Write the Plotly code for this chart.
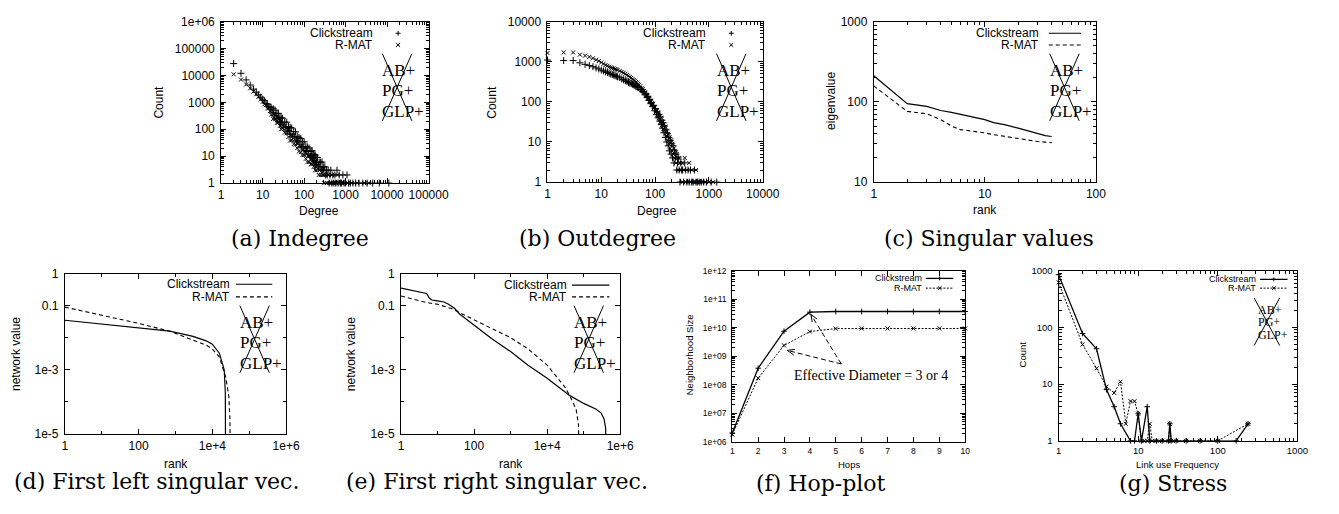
import math
import plotly.graph_objects as go

W, H = 1339, 514
SANS = "Liberation Sans, Arial, sans-serif"
SERIF = "Liberation Serif, Times New Roman, serif"
CAP = "DejaVu Serif, serif"

# ---------------- (a) Indegree ----------------
indeg_click_deg = [2, 3, 4, 5, 6, 7, 8, 9, 10,
                   11, 12, 13, 14, 15, 16, 17, 18, 19, 20,
                   21, 22, 23, 24, 25, 26, 27, 28, 29, 30,
                   32, 34, 36, 38, 40,
                   42, 44, 46, 48, 50,
                   53, 56, 59, 62, 65, 68, 71,
                   75, 79, 83, 87, 91, 95, 100,
                   105, 110, 115, 120, 126, 132, 138, 145,
                   150, 155, 160, 165, 170, 175, 180, 185, 190, 195, 200,
                   210, 220, 230, 240, 250, 260, 270, 280, 290, 300,
                   315, 330, 345, 360, 380, 400, 420, 440, 465, 490,
                   520, 550, 580, 620, 660, 700, 750, 800, 860, 920, 990,
                   1080, 1180, 1300, 1500, 1750, 2100, 2600, 3300, 4500, 6500, 11000]
indeg_click_cnt = [27500, 12000, 6800, 4400, 3100, 2400, 1900, 1550, 1300,
                   1150, 900, 855, 680, 670, 655, 408, 575, 313, 513,
                   245, 388, 254, 389, 187, 279, 182, 266, 151, 256,
                   120, 186, 121, 182, 86,
                   126, 82, 117, 66, 111,
                   52, 82, 53, 80, 37, 55, 36,
                   50, 28, 45, 22, 34, 22, 34,
                   16, 23, 15, 22, 12, 20, 10, 15,
                   10, 16, 8, 12, 7, 11, 6, 11, 5, 9, 6,
                   9, 4, 6, 4, 6, 3, 6, 3, 4, 3,
                   4, 2, 3, 2, 3, 1, 2, 3, 1, 2,
                   1, 2, 1, 3, 1, 2, 1, 1, 2, 1, 1,
                   2, 1, 1, 1, 1, 1, 1, 1, 1, 1, 1]
indeg_rmat_deg = [2, 3, 4, 5, 6, 7, 8, 9, 10,
                  11, 12, 13, 14, 15, 16, 17, 18, 19, 20,
                  21, 22, 23, 24, 25, 26, 27, 28, 29, 30,
                  32, 34, 36, 38, 40,
                  42, 44, 46, 48, 50,
                  53, 56, 59, 62, 65, 68, 71,
                  75, 79, 83, 87, 91, 95, 100,
                  105, 110, 115, 120, 126, 132, 138, 145,
                  150, 157, 163, 170, 177, 185, 193, 200,
                  212, 225, 238, 252, 268, 285, 305, 325, 350, 375,
                  405, 435, 470, 510, 545, 590, 640, 690, 760, 830,
                  950, 1120, 1400, 1900, 2800, 3600]
indeg_rmat_cnt = [11000, 7000, 4600, 3300, 2500, 2000, 1600, 1280, 1050,
                  840, 790, 605, 600, 480, 351, 506, 242, 372, 238,
                  356, 173, 265, 176, 243, 133, 200, 100, 161, 106,
                  154, 74, 110, 71, 97,
                  52, 77, 38, 60, 39,
                  57, 28, 41, 27, 37, 20, 30,
                  15, 23, 14, 22, 11, 17, 11,
                  15, 8, 12, 6, 10, 6, 10, 5,
                  8, 5, 7, 4, 6, 3, 4, 3,
                  5, 2, 3, 2, 3, 2, 1, 2, 1, 2,
                  1, 1, 2, 1, 1, 1, 2, 1, 1, 1,
                  1, 1, 1, 1, 1, 1]

# ---------------- (b) Outdegree ----------------
outdeg_rmat_deg = [1, 2, 3, 4, 5, 6, 7, 8, 9, 10, 11, 12, 13, 14, 15, 16, 17, 18, 19, 20,
                   22, 24, 26, 28, 30, 32, 34, 36, 38, 40, 42, 44, 46, 48, 50,
                   53, 56, 59, 62, 65, 68, 71, 74, 77, 80, 83, 86, 90, 94, 98,
                   102, 106, 110, 114, 118, 122, 126, 130, 134, 138, 142, 146, 150, 155, 160,
                   165, 170, 175, 180, 186, 192, 198, 204, 210, 217, 224, 231, 238, 245, 253,
                   261, 270, 280, 290, 300,
                   312, 325, 340, 355, 370, 390, 410, 430, 455, 480, 510, 540, 575, 610, 650,
                   700, 760, 850, 1000, 1200]
outdeg_rmat_cnt = [1650, 1700, 1700, 1500, 1420, 1320, 1220, 1120, 1040, 960, 890, 830, 790, 750, 720,
                   700, 680, 655, 640, 620,
                   590, 560, 530, 500, 470, 445, 415, 395, 370, 350, 335, 310, 300, 275, 265,
                   245, 220, 210, 185, 172, 150, 148, 128, 125, 108, 106, 92, 90, 74, 72,
                   62, 58, 48, 55, 40, 45, 32, 40, 26, 31, 21, 28, 19, 24, 14,
                   19, 11, 16, 9, 13, 7, 11, 6, 9, 5, 7, 4, 6, 3, 5,
                   4, 2, 4, 3, 2,
                   3, 1, 2, 4, 1, 2, 1, 3, 1, 2, 1, 1, 2, 1, 1,
                   1, 1, 1, 1, 1]
outdeg_click_deg = [1, 2, 3, 4, 5, 6, 7, 8, 9, 10, 11, 12, 13, 14, 15, 16, 17, 18, 19, 20,
                    22, 24, 26, 28, 30, 32, 34, 36, 38, 40, 42, 44, 46, 48, 50,
                    53, 56, 59, 62, 65, 68, 71, 74, 77, 80, 83, 86, 90, 94, 98,
                    102, 106, 110, 114, 118, 122, 126, 130, 134, 138, 142, 146, 150, 155, 160,
                    165, 170, 175, 180, 186, 192, 198, 204, 210, 217, 224, 231, 238, 245, 253,
                    261, 270, 280, 290, 300,
                    312, 325, 340, 355, 370, 390, 410, 430, 455, 480, 510, 540, 575, 610, 660,
                    720, 800, 900, 1100, 1400]
outdeg_click_cnt = [1100, 1070, 1070, 940, 860, 800, 750, 700, 660, 620, 590, 560, 540, 515, 495,
                    480, 465, 450, 435, 420,
                    400, 370, 355, 335, 320, 305, 295, 285, 275, 265, 258, 240, 242, 225, 228,
                    205, 200, 180, 175, 150, 155, 128, 132, 108, 112, 90, 96, 76, 82, 60,
                    68, 48, 56, 40, 48, 33, 42, 27, 35, 22, 30, 17, 25, 13, 20,
                    10, 16, 8, 13, 6, 11, 5, 9, 4, 8, 3, 6, 4, 5, 2,
                    3, 4, 2, 1, 3,
                    2, 2, 1, 3, 2, 1, 2, 1, 2, 1, 1, 2, 1, 1, 1,
                    1, 1, 1, 1, 1]

# ---------------- (c) Singular values ----------------
sv_rank = [1, 2, 3, 4, 5, 6, 7, 8, 9, 10, 12, 15, 20, 25, 30, 35, 40]
sv_click = [211, 95, 88, 78, 74, 70, 67, 64, 62, 60, 55, 52, 47, 43, 40, 38, 37]
sv_rmat = [158, 76, 71, 60, 50, 45, 44, 43, 42, 41, 39, 37, 35, 33, 32, 31.5, 31]

# ---------------- (d) First left singular vector ----------------
lsv_click_rank = [1, 10, 100, 700, 3000, 6800, 10000, 15500, 21000, 22500, 23000]
lsv_click_val = [0.035, 0.027, 0.021, 0.016, 0.011, 0.008, 0.0063, 0.0033, 0.001, 0.0002, 1e-7]
lsv_rmat_rank = [1, 10, 100, 700, 3000, 6800, 10000, 15500, 23000, 28000, 30000, 31500]
lsv_rmat_val = [0.09, 0.05, 0.028, 0.016, 0.0085, 0.0059, 0.0045, 0.0025, 0.0006, 0.00015, 0.00003, 1e-7]

# ---------------- (e) First right singular vector ----------------
rsv_click_rank = [1, 2, 3, 4, 5, 6, 7, 10, 15, 20, 30, 40, 50, 100, 300, 1000, 3000, 10000,
                  41000, 100000, 214000, 300000, 360000, 400000, 420000]
rsv_click_val = [0.35, 0.3, 0.27, 0.25, 0.24, 0.17, 0.15, 0.14, 0.13, 0.11, 0.08, 0.055, 0.045,
                 0.025, 0.0095, 0.0037, 0.0014, 0.00055, 0.00016, 0.00009, 0.00006, 0.000045,
                 0.00003, 0.000015, 1e-7]
rsv_rmat_rank = [1, 2, 3, 5, 10, 25, 100, 300, 1000, 3000, 10000, 30000, 41000, 62000, 72000, 79000]
rsv_rmat_val = [0.2, 0.16, 0.14, 0.125, 0.11, 0.08, 0.036, 0.019, 0.01, 0.0045, 0.0014, 0.0003,
                0.00016, 0.00006, 0.00002, 1e-7]

# ---------------- (f) Hop-plot ----------------
hops = [1, 2, 3, 4, 5, 6, 7, 8, 9, 10]
hop_click = [2e6, 3.8e8, 7.5e9, 3.5e10, 3.7e10, 3.7e10, 3.7e10, 3.7e10, 3.7e10, 3.7e10]
hop_rmat = [1.8e6, 1.7e8, 2.4e9, 7.3e9, 9.3e9, 9.4e9, 9.4e9, 9.4e9, 9.4e9, 9.4e9]

# ---------------- (g) Stress ----------------
stress_click_freq = [1, 2, 3, 4, 5, 6, 8, 9, 10, 11, 13, 14, 17, 20, 24, 25, 26, 30, 40, 60, 100, 170, 240]
stress_click_cnt = [850, 78, 42, 8, 4, 2, 1, 1, 3, 1, 4, 1, 1, 1, 1, 2, 1, 1, 1, 1, 1, 1, 2]
stress_rmat_freq = [1, 2, 3, 4, 5, 6, 7, 8, 9, 10, 11, 12, 13, 14, 15, 17, 20, 24, 25, 26, 30, 40, 60, 100, 240]
stress_rmat_cnt = [620, 50, 19, 9, 7, 11, 2, 5, 5, 3, 1, 1, 1, 2, 1, 1, 1, 1, 2, 1, 1, 1, 1, 1, 2]

# ---------------- texts ----------------
captions = ["(a) Indegree", "(b) Outdegree", "(c) Singular values",
            "(d) First left singular vec.", "(e) First right singular vec.",
            "(f) Hop-plot", "(g) Stress"]
series_names = ["Clickstream", "R-MAT"]
crossed_names = ["AB+", "PG+", "GLP+"]

assert len(indeg_click_deg) == len(indeg_click_cnt)
assert len(indeg_rmat_deg) == len(indeg_rmat_cnt)
assert len(outdeg_rmat_deg) == len(outdeg_rmat_cnt)
assert len(outdeg_click_deg) == len(outdeg_click_cnt)

# ================= figure =================
fig = go.Figure()
ann = []
shp = []


def X(px):
    return px / W


def Y(py):
    return 1 - py / H


def text(s, px, py, size, family=SANS, xanchor="center", yanchor="middle", angle=0):
    ann.append(dict(text=s, x=X(px), y=Y(py), xref="paper", yref="paper", showarrow=False,
                    xanchor=xanchor, yanchor=yanchor, textangle=angle,
                    font=dict(family=family, size=size, color="black")))


def seg(x0, y0, x1, y1, dash="solid", width=1):
    shp.append(dict(type="line", xref="paper", yref="paper", x0=X(x0), y0=Y(y0), x1=X(x1), y1=Y(y1),
                    line=dict(color="black", width=width, dash=dash)))


def plus(cx, cy, r=2.5):
    seg(cx - r, cy, cx + r, cy)
    seg(cx, cy - r, cx, cy + r)


def cross(cx, cy, r=2):
    seg(cx - r, cy - r, cx + r, cy + r)
    seg(cx - r, cy + r, cx + r, cy - r)


def dec_minor(lo, hi):
    return [m * 10 ** e for e in range(lo, hi) for m in range(2, 10)]


def axis(dom, typ, rng, tv, tt, minor, anchor, fs, standoff=4):
    d = dict(domain=dom, type=typ, range=rng, tickvals=tv, ticktext=tt, anchor=anchor,
             showline=True, linecolor="black", linewidth=1, mirror="ticks",
             ticks="inside", ticklen=5, tickwidth=1, tickcolor="black",
             showgrid=False, zeroline=False, ticklabelstandoff=standoff,
             tickfont=dict(family=SANS, size=fs, color="black"))
    if minor:
        d["minor"] = dict(tickvals=minor, ticks="inside", ticklen=3, tickwidth=1,
                          tickcolor="black", showgrid=False)
    return d


# panel boxes in pixels: (x0, x1, y0(top), y1(bottom))
boxes = [(222, 433, 15, 181), (554, 773, 15, 180), (886, 1112, 15, 180),
         (63, 288, 274, 439), (405, 628, 274, 439), (742, 979, 271, 447), (1074, 1317, 271, 446)]

p10 = lambda lo, hi: [10 ** e for e in range(lo, hi + 1)]

xcfg = [
    ("log", [0, 5], p10(0, 5), ["1", "10", "100", "1000", "10000", "100000"], dec_minor(0, 5), 12),
    ("log", [0, 4], p10(0, 4), ["1", "10", "100", "1000", "10000"], dec_minor(0, 4), 12),
    ("log", [0, 2], p10(0, 2), ["1", "10", "100"], dec_minor(0, 2), 12),
    ("log", [0, 6], [1, 100, 1e4, 1e6], ["1", "100", "1e+4", "1e+6"], [10, 1000, 1e5], 12),
    ("log", [0, 6], [1, 100, 1e4, 1e6], ["1", "100", "1e+4", "1e+6"], [10, 1000, 1e5], 12),
    ("linear", [1, 10], hops, [str(h) for h in hops], None, 8.5),
    ("log", [0, 3], p10(0, 3), ["1", "10", "100", "1000"], dec_minor(0, 3), 9.5),
]
ycfg = [
    ("log", [0, 6], p10(0, 6), ["1", "10", "100", "1000", "10000", "100000", "1e+06"], dec_minor(0, 6), 12),
    ("log", [0, 4], p10(0, 4), ["1", "10", "100", "1000", "10000"], dec_minor(0, 4), 12),
    ("log", [1, 3], p10(1, 3), ["10", "100", "1000"], dec_minor(1, 3), 12),
    ("log", [-5, 0], [1e-5, 1e-3, 0.1, 1], ["1e-5", "1e-3", "0.1", "1"], [1e-4, 1e-2], 12),
    ("log", [-5, 0], [1e-5, 1e-3, 0.1, 1], ["1e-5", "1e-3", "0.1", "1"], [1e-4, 1e-2], 12),
    ("log", [6, 12], p10(6, 12), ["1e+06", "1e+07", "1e+08", "1e+09", "1e+10", "1e+11", "1e+12"],
     dec_minor(6, 12), 8.5),
    ("log", [0, 3], p10(0, 3), ["1", "10", "100", "1000"], dec_minor(0, 3), 9.5),
]

layout_axes = {}
for i, (b, xc, yc) in enumerate(zip(boxes, xcfg, ycfg), start=1):
    x0, x1, y0, y1 = b
    sfx = "" if i == 1 else str(i)
    layout_axes["xaxis" + sfx] = axis([X(x0), X(x1)], xc[0], xc[1], xc[2], xc[3], xc[4], "y" + sfx, xc[5], 1)
    layout_axes["yaxis" + sfx] = axis([Y(y1), Y(y0)], yc[0], yc[1], yc[2], yc[3], yc[4], "x" + sfx, yc[5], 3)


def ax(i):
    return ("x" if i == 1 else "x%d" % i), ("y" if i == 1 else "y%d" % i)


plus_mk = dict(symbol="cross-thin", size=5, color="black", line=dict(width=1, color="black"))
x_mk = dict(symbol="x-thin", size=4, color="black", line=dict(width=1, color="black"))

# (a)
xa, ya = ax(1)
fig.add_trace(go.Scatter(x=indeg_click_deg, y=indeg_click_cnt, mode="markers", marker=plus_mk,
                         xaxis=xa, yaxis=ya, cliponaxis=False, showlegend=False))
fig.add_trace(go.Scatter(x=indeg_rmat_deg, y=indeg_rmat_cnt, mode="markers", marker=x_mk,
                         xaxis=xa, yaxis=ya, cliponaxis=False, showlegend=False))
# (b)
xa, ya = ax(2)
fig.add_trace(go.Scatter(x=outdeg_click_deg, y=outdeg_click_cnt, mode="markers", marker=plus_mk,
                         xaxis=xa, yaxis=ya, cliponaxis=False, showlegend=False))
fig.add_trace(go.Scatter(x=outdeg_rmat_deg, y=outdeg_rmat_cnt, mode="markers", marker=x_mk,
                         xaxis=xa, yaxis=ya, cliponaxis=False, showlegend=False))
# (c)
xa, ya = ax(3)
fig.add_trace(go.Scatter(x=sv_rank, y=sv_click, mode="lines", line=dict(color="black", width=1.2),
                         xaxis=xa, yaxis=ya, showlegend=False))
fig.add_trace(go.Scatter(x=sv_rank, y=sv_rmat, mode="lines",
                         line=dict(color="black", width=1.1, dash="4px,3px"),
                         xaxis=xa, yaxis=ya, showlegend=False))
# (d)
xa, ya = ax(4)
fig.add_trace(go.Scatter(x=lsv_click_rank, y=lsv_click_val, mode="lines", line=dict(color="black", width=1.2),
                         xaxis=xa, yaxis=ya, showlegend=False))
fig.add_trace(go.Scatter(x=lsv_rmat_rank, y=lsv_rmat_val, mode="lines",
                         line=dict(color="black", width=1.1, dash="4px,3px"),
                         xaxis=xa, yaxis=ya, showlegend=False))
# (e)
xa, ya = ax(5)
fig.add_trace(go.Scatter(x=rsv_click_rank, y=rsv_click_val, mode="lines", line=dict(color="black", width=1.2),
                         xaxis=xa, yaxis=ya, showlegend=False))
fig.add_trace(go.Scatter(x=rsv_rmat_rank, y=rsv_rmat_val, mode="lines",
                         line=dict(color="black", width=1.1, dash="4px,3px"),
                         xaxis=xa, yaxis=ya, showlegend=False))
# (f)
xa, ya = ax(6)
fig.add_trace(go.Scatter(x=hops, y=hop_click, mode="lines+markers", line=dict(color="black", width=1.3),
                         marker=dict(symbol="cross-thin", size=4, line=dict(width=1, color="black")),
                         xaxis=xa, yaxis=ya, cliponaxis=False, showlegend=False))
fig.add_trace(go.Scatter(x=hops, y=hop_rmat, mode="lines+markers",
                         line=dict(color="black", width=1, dash="2px,1.5px"),
                         marker=dict(symbol="x-thin", size=4, line=dict(width=1, color="black")),
                         xaxis=xa, yaxis=ya, cliponaxis=False, showlegend=False))
# (g)
xa, ya = ax(7)
fig.add_trace(go.Scatter(x=stress_click_freq, y=stress_click_cnt, mode="lines+markers",
                         line=dict(color="black", width=1.3),
                         marker=dict(symbol="cross-thin", size=4, line=dict(width=1, color="black")),
                         xaxis=xa, yaxis=ya, cliponaxis=False, showlegend=False))
fig.add_trace(go.Scatter(x=stress_rmat_freq, y=stress_rmat_cnt, mode="lines+markers",
                         line=dict(color="black", width=1, dash="2px,1.5px"),
                         marker=dict(symbol="x-thin", size=4, line=dict(width=1, color="black")),
                         xaxis=xa, yaxis=ya, cliponaxis=False, showlegend=False))

# ---------- axis titles ----------
text("Count", 159, 98, 12, angle=-90)
text("Degree", 322, 210, 12)
text("Count", 498, 98, 12, angle=-90)
text("Degree", 665, 210, 12)
text("eigenvalue", 843, 97, 12, angle=-90)
text("rank", 999, 209, 12)
text("network value", 14, 357, 12, angle=-90)
text("rank", 176, 470, 12)
text("network value", 354, 357, 12, angle=-90)
text("rank", 517, 470, 12)
text("Neighborhood Size", 698, 358, 9.5, angle=-90)
text("Hops", 861, 470, 9.5)
text("Count", 1037, 357, 9.5, angle=-90)
text("Link use Frequency", 1195, 470, 9.5)

# ---------- captions ----------
cap_pos = [(302, 238), (605, 238), (1003, 238), (156, 488), (503, 488), (832, 490), (1190, 490)]
for c, (cx, cy) in zip(captions, cap_pos):
    text(c, cx, cy, 22, family=CAP)

# ---------- legends ----------
for (rx, kx) in [(378, 402), (717, 741)]:
    text(series_names[0], rx, 27, 12, xanchor="right")
    text(series_names[1], rx, 39, 12, xanchor="right")
    plus(kx, 27)
    cross(kx, 39)
for (rx, k0, k1, ya_, yb_) in [(1056, 1064, 1097, 27, 39), (233, 237, 274, 285, 298), (576, 579, 617, 286, 298)]:
    text(series_names[0], rx, ya_, 12, xanchor="right")
    text(series_names[1], rx, yb_, 12, xanchor="right")
    seg(k0, ya_, k1, ya_, width=1.2)
    seg(k0, yb_, k1, yb_, dash="4px,3px", width=1.1)
for (rx, k0, k1, ya_, yb_) in [(937, 939, 967, 279, 289), (1277, 1279, 1307, 280, 289)]:
    text(series_names[0], rx, ya_, 9, xanchor="right")
    text(series_names[1], rx, yb_, 9, xanchor="right")
    seg(k0, ya_, k1, ya_, width=1.3)
    seg(k0, yb_, k1, yb_, dash="2px,1.5px", width=1)
    plus((k0 + k1) / 2, ya_, 2)
    cross((k0 + k1) / 2, yb_, 1.8)


# ---------- crossed-out model names ----------
def crossed(right, top, lx0, lx1, ly0, ly1, tx, tys, fs):
    seg(right - lx0, top + ly0, right - lx1, top + ly1)
    seg(right - lx1, top + ly0, right - lx0, top + ly1)
    for name, ty in zip(crossed_names, tys):
        text(name, right - tx, top + ty, fs, family=SERIF, xanchor="left")


for (r, t) in [(433, 15), (773, 15), (1112, 15), (288, 274), (628, 274)]:
    crossed(r, t, 47, 17, 33, 102, 49, [50, 71, 92], 17)
crossed(1317, 271, 44, 18, 28, 77, 42, [40, 53, 66], 12)

# ---------- hop-plot annotation ----------
text("Effective Diameter = 3 or 4", 883, 379, 14, family=SERIF)
tail = (853, 367)
for head in [(822, 316), (798, 353)]:
    seg(tail[0], tail[1], head[0], head[1], dash="5px,3px", width=1)
    dx, dy = head[0] - tail[0], head[1] - tail[1]
    L = (dx * dx + dy * dy) ** 0.5
    ux, uy = dx / L, dy / L
    for ang in (0.38, -0.38):
        ca, sa = math.cos(ang), math.sin(ang)
        bx = -(ux * ca - uy * sa) * 8
        by = -(ux * sa + uy * ca) * 8
        seg(head[0], head[1], head[0] + bx, head[1] + by, width=1)

fig.update_layout(width=W, height=H, margin=dict(l=0, r=0, t=0, b=0),
                  paper_bgcolor="white", plot_bgcolor="white",
                  annotations=ann, shapes=shp, showlegend=False, **layout_axes)

fig.write_html("out.html", config={"displayModeBar": False},
               post_script="document.body.style.margin='0px';")
